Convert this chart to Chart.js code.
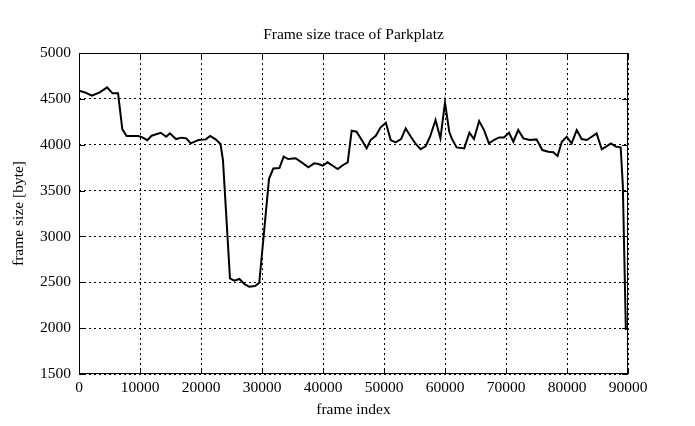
<!DOCTYPE html>
<html>
<head>
<meta charset="utf-8">
<script src="https://cdn.jsdelivr.net/npm/chart.js@4/dist/chart.umd.min.js"></script>
<style>
  body { margin: 0; background: #fff; }
  #c { display: block; }
</style>
</head>
<body>
<canvas id="c" width="695" height="426"></canvas>
<script>
// frame index / frame size
const frameIndex = [0, 1000, 2100, 3400, 4600, 5500, 6400, 7100, 7800, 9700,
  10400, 11200, 11900, 13400, 14300, 14900, 15900, 16800, 17600, 18300,
  19600, 20800, 21500, 22400, 23200, 23600, 24750, 25450, 26300, 27100,
  27900, 28850, 29550, 31150, 31850, 32850, 33550, 34300, 35500, 36500,
  37600, 38550, 39250, 39950, 40750, 41600, 42400, 43300, 44050, 44700,
  45500, 46350, 47150, 47800, 48650, 49450, 50300, 51100, 51900, 52800,
  53550, 54400, 55200, 56000, 56850, 57550, 58450, 59250, 60000, 60700,
  61100, 61900, 63150, 64000, 64750, 65600, 66400, 67200, 68000, 68850,
  69650, 70500, 71200, 72000, 72850, 73900, 75000, 75950, 76950, 77750,
  78450, 79150, 79950, 80750, 81600, 82400, 83250, 84050, 84850, 85700,
  86400, 87200, 88000, 88800, 89150, 89650];
const frameSize = [4590, 4570, 4535, 4570, 4625, 4560, 4560, 4170, 4095, 4095,
  4080, 4050, 4098, 4130, 4087, 4124, 4062, 4077, 4069, 4015,
  4051, 4058, 4095, 4058, 4008, 3833, 2543, 2517, 2536, 2481,
  2452, 2460, 2495, 3628, 3740, 3745, 3870, 3844, 3852, 3808,
  3754, 3797, 3790, 3771, 3808, 3771, 3735, 3779, 3808, 4153,
  4142, 4051, 3960, 4051, 4098, 4190, 4240, 4051, 4026, 4062,
  4178, 4087, 4008, 3950, 3986, 4087, 4269, 4069, 4460, 4140,
  4069, 3971, 3960, 4131, 4062, 4258, 4160, 4015, 4051, 4080,
  4080, 4131, 4033, 4160, 4069, 4051, 4058, 3942, 3924, 3917,
  3877, 4033, 4087, 4015, 4160, 4062, 4051, 4087, 4124, 3950,
  3979, 4015, 3979, 3971, 3560, 1980];

const xTicks = [0, 10000, 20000, 30000, 40000, 50000, 60000, 70000, 80000, 90000];
const yTicks = [1500, 2000, 2500, 3000, 3500, 4000, 4500, 5000];
const chartTitle = 'Frame size trace of Parkplatz';

const serif = "'Liberation Serif', 'DejaVu Serif', serif";
const fontSize = 15.5;

// gnuplot-like frame with inward tick marks, title centred over the plot
const framePlugin = {
  id: 'frame',
  afterDatasetsDraw(chart) {
    const { ctx, chartArea: a, scales } = chart;
    ctx.save();
    ctx.strokeStyle = '#000';
    ctx.lineWidth = 1;
    ctx.setLineDash([]);
    ctx.strokeRect(a.left + 0.5, a.top + 0.5, a.right - a.left - 1, a.bottom - a.top - 1);
    ctx.beginPath();
    xTicks.forEach(v => {
      const x = Math.round(scales.x.getPixelForValue(v)) + 0.5;
      ctx.moveTo(x, a.bottom); ctx.lineTo(x, a.bottom - 6);
      ctx.moveTo(x, a.top); ctx.lineTo(x, a.top + 6);
    });
    yTicks.forEach(v => {
      const y = Math.round(scales.y.getPixelForValue(v)) + 0.5;
      ctx.moveTo(a.left, y); ctx.lineTo(a.left + 6, y);
      ctx.moveTo(a.right, y); ctx.lineTo(a.right - 6, y);
    });
    ctx.stroke();

    ctx.fillStyle = '#000';
    ctx.font = fontSize + 'px ' + serif;
    ctx.textAlign = 'center';
    ctx.textBaseline = 'middle';
    ctx.fillText(chartTitle, (a.left + a.right) / 2, 35);
    ctx.restore();
  }
};

new Chart(document.getElementById('c'), {
  type: 'line',
  data: {
    datasets: [{
      data: frameIndex.map((f, i) => ({ x: f, y: frameSize[i] })),
      borderColor: '#000',
      borderWidth: 2,
      pointRadius: 0,
      tension: 0,
      fill: false
    }]
  },
  options: {
    responsive: false,
    animation: false,
    layout: { padding: { left: 10, right: 67, top: 53, bottom: 7 } },
    plugins: {
      legend: { display: false },
      tooltip: { enabled: false },
      title: { display: false }
    },
    scales: {
      x: {
        type: 'linear',
        min: 0, max: 90000,
        afterBuildTicks: s => { s.ticks = xTicks.map(v => ({ value: v })); },
        afterFit: s => { s.height = 45; },
        ticks: { color: '#000', font: { family: serif, size: fontSize }, padding: 5, maxRotation: 0,
          callback: v => String(v) },
        grid: { color: '#000', lineWidth: 1, drawTicks: false },
        border: { display: false, dash: [2, 3] },
        title: { display: true, text: 'frame index', color: '#000', font: { family: serif, size: fontSize }, padding: 0 }
      },
      y: {
        min: 1500, max: 5000,
        afterBuildTicks: s => { s.ticks = yTicks.map(v => ({ value: v })); },
        afterFit: s => { s.width = 69; },
        ticks: { color: '#000', font: { family: serif, size: fontSize }, padding: 8,
          callback: v => String(v) },
        grid: { color: '#000', lineWidth: 1, drawTicks: false },
        border: { display: false, dash: [2, 3] },
        title: { display: true, text: 'frame size [byte]', color: '#000', font: { family: serif, size: fontSize }, padding: 0 }
      }
    }
  },
  plugins: [framePlugin]
});
</script>
</body>
</html>
